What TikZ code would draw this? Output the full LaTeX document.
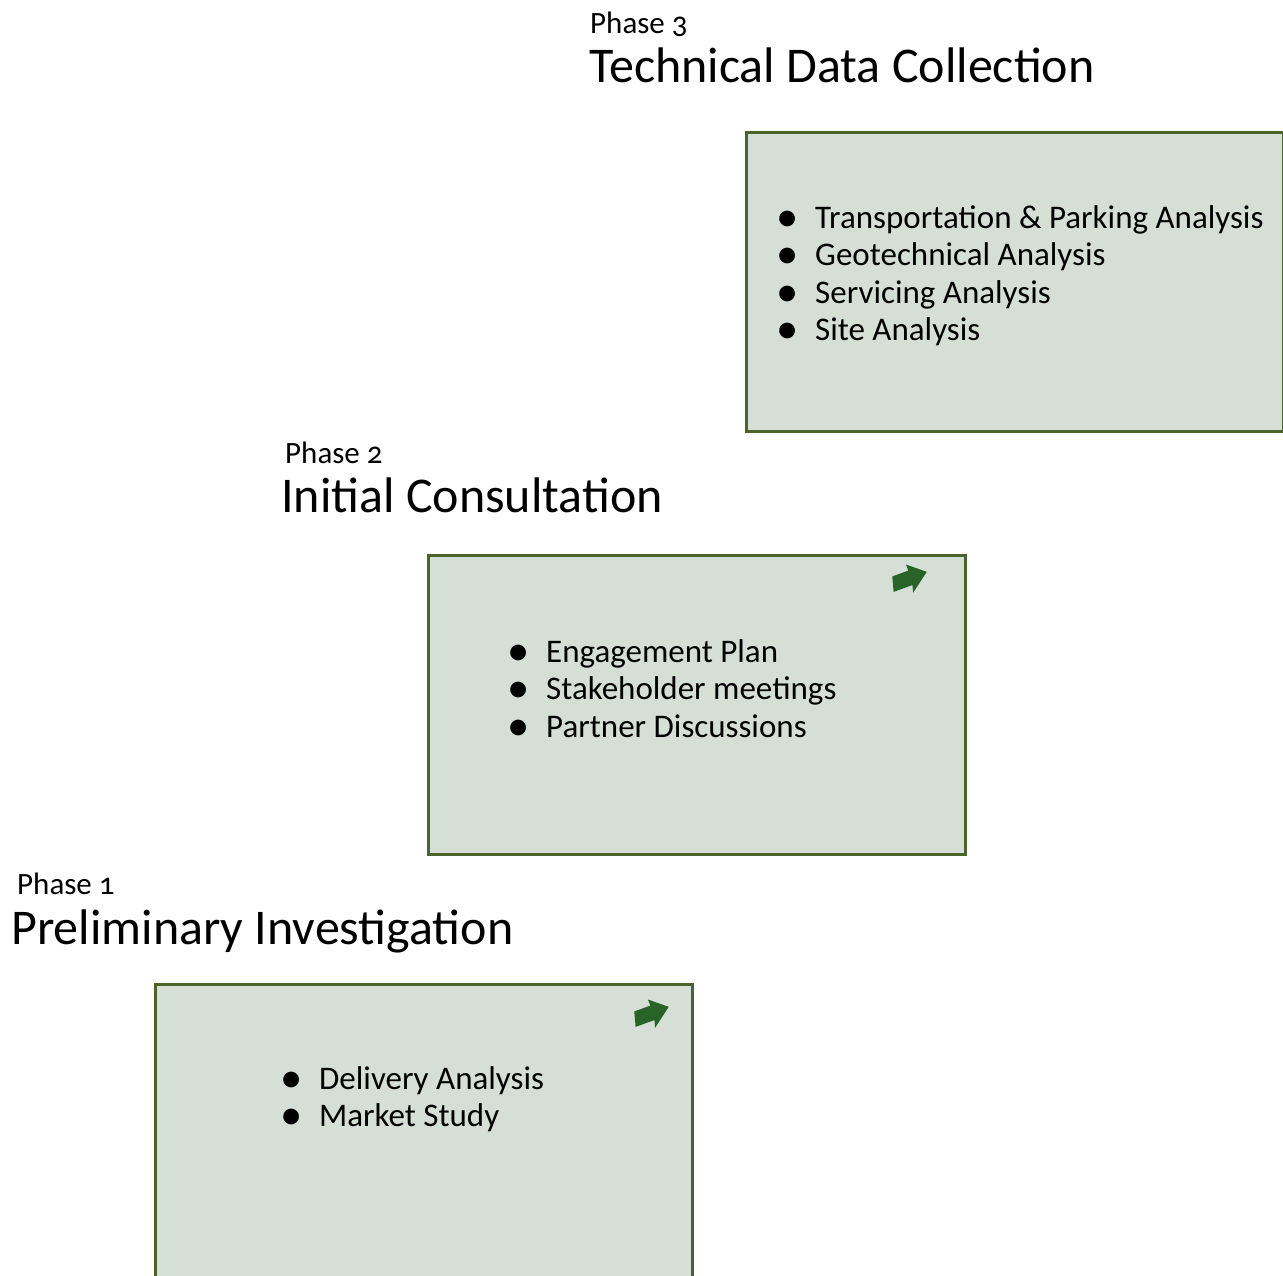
\documentclass[tikz,border=0pt]{standalone}
\usepackage{fontspec}
\setmainfont{Carlito}[Numbers=OldStyle]
\definecolor{boxfill}{RGB}{213,223,214}
\definecolor{boxline}{RGB}{74,100,44}
\definecolor{arrowgreen}{RGB}{40,100,40}
\newcommand\bul{\makebox[29pt][l]{\hspace{-9.5pt}\raisebox{-3.3pt}{\scalebox{1.35}{\textbullet}}}}
\tikzset{
  phasebox/.style={draw=boxline, line width=2.5pt, fill=boxfill, rectangle, inner sep=0pt, minimum width=537pt, anchor=north west},
  phaselabel/.style={anchor=base west, inner sep=0pt, font=\fontsize{31}{36}\selectfont},
  phasetitle/.style={anchor=base west, inner sep=0pt, font=\fontsize{50}{58}\selectfont},
  bulletlist/.style={anchor=base west, inner sep=0pt, font=\fontsize{33}{37.5}\selectfont},
  flowarrow/.style={fill=arrowgreen, draw=none}
}
\begin{document}
\begin{tikzpicture}[x=1pt,y=1pt]
\useasboundingbox (0,0) rectangle (1283,-1275);
\clip (0,0) rectangle (1283,-1275);

% Phase 3
\node[phaselabel] (l3) at (590,-33.5) {Phase 3};
\node[phasetitle] (t3) at (589,-82.5) {Technical Data Collection};
\node[phasebox, minimum height=299pt] (b3) at (745,-131) {};
\node[bulletlist] (i3) at (786,-228) {\begin{tabular}[t]{@{}l@{}}
\bul Transportation \& Parking Analysis\\
\bul Geotechnical Analysis\\
\bul Servicing Analysis\\
\bul Site Analysis
\end{tabular}};

% Phase 2
\node[phaselabel] (l2) at (285,-463.5) {Phase 2};
\node[phasetitle] (t2) at (281,-512.5) {Initial Consultation};
\node[phasebox, minimum height=299pt] (b2) at (427,-554) {};
\node[bulletlist] (i2) at (517,-662) {\begin{tabular}[t]{@{}l@{}}
\bul Engagement Plan\\
\bul Stakeholder meetings\\
\bul Partner Discussions
\end{tabular}};
\begin{scope}[shift={(892,-584.5)}, rotate=20]
  \fill[flowarrow] (-1,-7.5) -- (19,-7.5) -- (17,-15) -- (37,0) -- (20,14) -- (20,7.5) -- (3,7.5) -- cycle;
\end{scope}

% Phase 1
\node[phaselabel] (l1) at (17,-894) {Phase 1};
\node[phasetitle] (t1) at (11,-944) {Preliminary Investigation};
\node[phasebox, minimum height=330pt] (b1) at (154,-983) {};
\node[bulletlist] (i1) at (290,-1089) {\begin{tabular}[t]{@{}l@{}}
\bul Delivery Analysis\\
\bul Market Study
\end{tabular}};
\begin{scope}[shift={(634,-1019.5)}, rotate=20]
  \fill[flowarrow] (-1,-7.5) -- (19,-7.5) -- (17,-15) -- (37,0) -- (20,14) -- (20,7.5) -- (3,7.5) -- cycle;
\end{scope}
\end{tikzpicture}
\end{document}
